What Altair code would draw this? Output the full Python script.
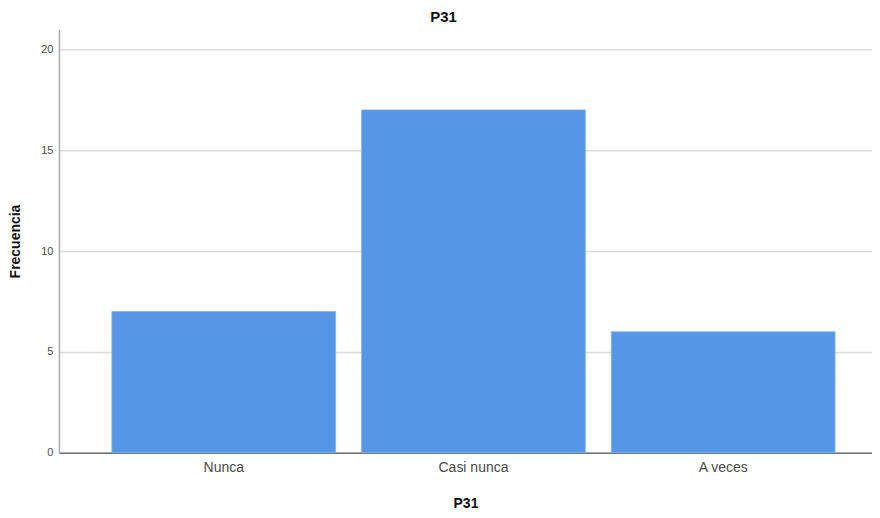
import altair as alt
import pandas as pd

categories = ["Nunca", "Casi nunca", "A veces"]
frecuencias = [7, 17, 6]

df = pd.DataFrame({"P31": categories, "Frecuencia": frecuencias})

FONT = "Liberation Sans"

chart = alt.Chart(df).mark_bar(color="#5596E6", stroke="#7FB0EE", strokeWidth=0.8).encode(
    x=alt.X(
        "P31:N",
        sort=categories,
        scale=alt.Scale(paddingInner=0.104, paddingOuter=0.18, align=0.589),
        axis=alt.Axis(
            title="P31", labelAngle=0, ticks=False, tickSize=0, labelPadding=8,
            labelFontSize=14, labelColor="#4a4a4a", labelFont=FONT,
            titleFontSize=14, titleFont=FONT, titleFontWeight="bold",
            titleColor="#111111", titlePadding=22,
            domainColor="#6e6e6e", domainWidth=1.5, grid=False,
        ),
    ),
    y=alt.Y(
        "Frecuencia:Q",
        scale=alt.Scale(domain=[0, 21], nice=False),
        axis=alt.Axis(
            title="Frecuencia", values=[0, 5, 10, 15, 20], ticks=False, tickSize=0,
            labelPadding=6, labelFontSize=11, labelColor="#4a4a4a", labelFont=FONT,
            titleFontSize=14, titleFont=FONT, titleFontWeight="bold",
            titleColor="#111111", titlePadding=18,
            domainColor="#aaaaaa", domainWidth=1.5,
            grid=True, gridColor="#dadada", gridWidth=1.5,
        ),
    ),
).properties(
    width=814,
    height=424,
    title=alt.TitleParams("P31", fontSize=15, font=FONT, fontWeight="bold",
                          color="#111111", anchor="middle", dx=-22, offset=4),
    padding={"left": 0, "right": 0, "top": 2, "bottom": 0},
).configure_view(stroke=None)

chart.save("out.html", embed_options={"renderer": "svg", "actions": False})
